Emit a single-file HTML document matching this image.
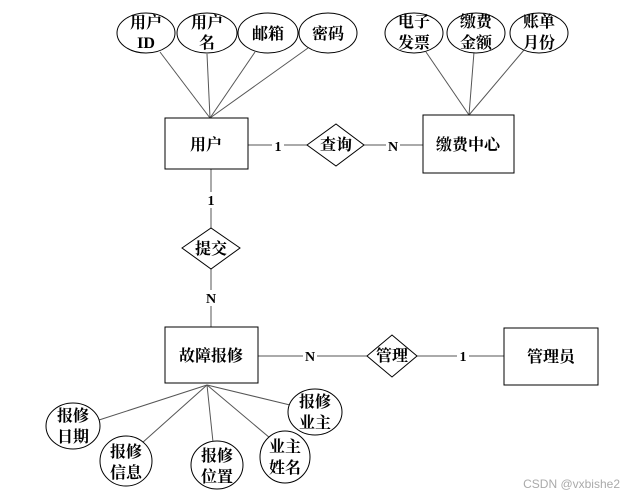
<!DOCTYPE html>
<html><head><meta charset="utf-8"><style>
html,body{margin:0;padding:0;background:#fff;}
svg{display:block;}
text{font-family:"Liberation Serif","Noto Serif CJK SC",serif;font-weight:bold;font-size:16px;fill:#000;}
.l{stroke:#555;stroke-width:1;fill:none;}
.s{stroke:#000;stroke-width:1;fill:#fff;}
.c{font-size:14px;}
</style></head><body>
<svg width="632" height="497" viewBox="0 0 632 497" xmlns="http://www.w3.org/2000/svg">
<!-- top attr lines -->
<line class="l" x1="210" y1="118" x2="160" y2="52"/>
<line class="l" x1="210" y1="118" x2="207" y2="54"/>
<line class="l" x1="210" y1="118" x2="255" y2="52"/>
<line class="l" x1="210" y1="118" x2="308" y2="48"/>
<line class="l" x1="469" y1="115" x2="426" y2="52"/>
<line class="l" x1="469" y1="115" x2="474" y2="52"/>
<line class="l" x1="469" y1="115" x2="524" y2="50"/>
<!-- relations lines -->
<line class="l" x1="248" y1="145" x2="307" y2="145"/>
<line class="l" x1="364" y1="145" x2="423" y2="145"/>
<line class="l" x1="211" y1="169" x2="211" y2="228"/>
<line class="l" x1="211" y1="269" x2="211" y2="327"/>
<line class="l" x1="258" y1="356" x2="367" y2="356"/>
<line class="l" x1="417" y1="356" x2="504" y2="356"/>
<!-- bottom attr lines -->
<line class="l" x1="207" y1="385" x2="99" y2="420"/>
<line class="l" x1="207" y1="385" x2="142" y2="443"/>
<line class="l" x1="207" y1="385" x2="213" y2="442"/>
<line class="l" x1="207" y1="385" x2="270" y2="438"/>
<line class="l" x1="207" y1="385" x2="290" y2="405"/>
<!-- top ellipses -->
<ellipse class="s" cx="146" cy="33" rx="29" ry="20"/>
<ellipse class="s" cx="207" cy="33" rx="30" ry="20"/>
<ellipse class="s" cx="268" cy="33" rx="30" ry="20"/>
<ellipse class="s" cx="328" cy="33" rx="29" ry="20"/>
<ellipse class="s" cx="414" cy="33" rx="29" ry="20"/>
<ellipse class="s" cx="476" cy="33" rx="29" ry="20"/>
<ellipse class="s" cx="539" cy="33" rx="29" ry="20"/>
<text x="146" y="28" text-anchor="middle">用户</text><text x="146" y="48" text-anchor="middle">ID</text>
<text x="207" y="28" text-anchor="middle">用户</text><text x="207" y="48" text-anchor="middle">名</text>
<text x="268" y="39" text-anchor="middle">邮箱</text>
<text x="328" y="39" text-anchor="middle">密码</text>
<text x="414" y="27" text-anchor="middle">电子</text><text x="414" y="48" text-anchor="middle">发票</text>
<text x="476" y="27" text-anchor="middle">缴费</text><text x="476" y="48" text-anchor="middle">金额</text>
<text x="539" y="27" text-anchor="middle">账单</text><text x="539" y="48" text-anchor="middle">月份</text>
<!-- entities -->
<rect class="s" x="165" y="118" width="83" height="51"/>
<text x="206" y="150" text-anchor="middle">用户</text>
<rect class="s" x="423" y="115" width="91" height="58"/>
<text x="468" y="150" text-anchor="middle">缴费中心</text>
<rect class="s" x="165" y="327" width="93" height="56"/>
<text x="211" y="361" text-anchor="middle">故障报修</text>
<rect class="s" x="504" y="328" width="94" height="57"/>
<text x="551" y="362" text-anchor="middle">管理员</text>
<!-- diamonds -->
<polygon class="s" points="307,145 336,124 364,145 336,166"/>
<text x="336" y="150" text-anchor="middle">查询</text>
<polygon class="s" points="182,248 211,228 240,248 211,269"/>
<text x="211" y="254" text-anchor="middle">提交</text>
<polygon class="s" points="367,356 392,335 417,356 392,377"/>
<text x="392" y="361" text-anchor="middle">管理</text>
<!-- cardinalities -->
<rect x="272" y="137" width="12" height="16" fill="#fff"/><text x="278" y="151" text-anchor="middle" class="c">1</text>
<rect x="386" y="137" width="14" height="16" fill="#fff"/><text x="393" y="151" text-anchor="middle" class="c">N</text>
<rect x="205" y="192" width="12" height="16" fill="#fff"/><text x="211" y="205" text-anchor="middle" class="c">1</text>
<rect x="204" y="290" width="14" height="16" fill="#fff"/><text x="211" y="303" text-anchor="middle" class="c">N</text>
<rect x="303" y="348" width="14" height="16" fill="#fff"/><text x="310" y="361" text-anchor="middle" class="c">N</text>
<rect x="457" y="348" width="12" height="16" fill="#fff"/><text x="463" y="361" text-anchor="middle" class="c">1</text>
<!-- bottom ellipses -->
<ellipse class="s" cx="73" cy="426" rx="27" ry="23"/>
<text x="73" y="421" text-anchor="middle">报修</text><text x="73" y="442" text-anchor="middle">日期</text>
<ellipse class="s" cx="126" cy="461" rx="26" ry="25"/>
<text x="126" y="457" text-anchor="middle">报修</text><text x="126" y="478" text-anchor="middle">信息</text>
<ellipse class="s" cx="217" cy="465" rx="26" ry="24"/>
<text x="217" y="461" text-anchor="middle">报修</text><text x="217" y="482" text-anchor="middle">位置</text>
<ellipse class="s" cx="285" cy="457" rx="25" ry="26"/>
<text x="285" y="452" text-anchor="middle">业主</text><text x="285" y="473" text-anchor="middle">姓名</text>
<ellipse class="s" cx="315" cy="412" rx="27" ry="23"/>
<text x="315" y="407" text-anchor="middle">报修</text><text x="315" y="428" text-anchor="middle">业主</text>
<text x="620" y="488" text-anchor="end" style="font-family:'Liberation Sans',sans-serif;font-weight:normal;font-size:12px;fill:#aaa">CSDN @vxbishe2</text>
</svg>
</body></html>
